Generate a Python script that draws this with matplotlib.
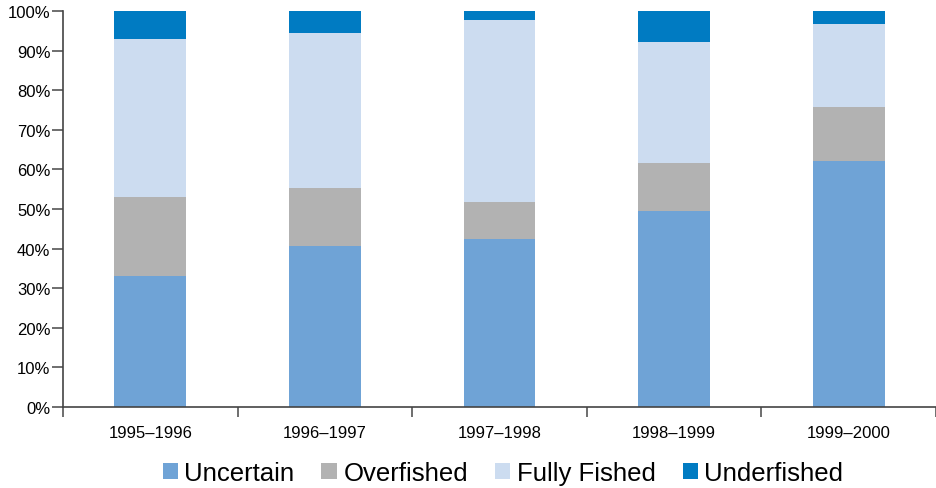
import numpy as np
import matplotlib
matplotlib.use('Agg')
import matplotlib.pyplot as plt
from matplotlib.ticker import FixedLocator, FuncFormatter

plt.rcParams['font.family'] = ['Liberation Sans', 'DejaVu Sans']

## Stock status shares per period (percent) ##
periods = ['1995\u20131996', '1996\u20131997', '1997\u20131998',
           '1998\u20131999', '1999\u20132000']
uncertain = [33.0, 40.7, 42.4, 49.5, 62.1]
overfished = [20.0, 14.6, 9.4, 12.2, 13.6]
fully_fished = [40.0, 39.1, 45.8, 30.4, 20.9]
underfished = [7.0, 5.6, 2.4, 7.9, 3.4]

series = [('Uncertain', uncertain, '#6fa3d6'),
          ('Overfished', overfished, '#b2b2b2'),
          ('Fully Fished', fully_fished, '#ccdcf0'),
          ('Underfished', underfished, '#007bc2')]

fig = plt.figure(figsize=(9.37, 4.89), dpi=100)
ax = fig.add_axes([0.0672, 0.1656, 0.9318, 0.8099])

x = np.arange(len(periods))
bottom = np.zeros(len(periods))
for name, vals, color in series:
    ax.bar(x, vals, width=0.41, bottom=bottom, color=color, label=name,
           edgecolor='none')
    bottom += np.array(vals)

ax.set_xlim(-0.5, len(periods) - 0.5)
ax.set_ylim(0, 100)

ax.set_yticks(np.arange(0, 101, 10))
ax.yaxis.set_major_formatter(FuncFormatter(lambda v, p: f'{int(v)}%'))
ax.tick_params(axis='y', direction='out', length=8, width=1.2,
               color='#555555', labelsize=12, pad=1)

ax.set_xticks(x)
ax.set_xticklabels(periods)
ax.xaxis.set_minor_locator(FixedLocator(np.arange(-0.5, len(periods), 1.0)))
ax.tick_params(axis='x', which='major', length=0, labelsize=12, pad=13)
ax.tick_params(axis='x', which='minor', direction='out', length=7,
               width=1.2, color='#555555')

for side in ['top', 'right']:
    ax.spines[side].set_visible(False)
for side in ['left', 'bottom']:
    ax.spines[side].set_color('#444444')
    ax.spines[side].set_linewidth(1.2)

ax.legend(loc='center', bbox_to_anchor=(0.504, -0.167), ncol=4,
          frameon=False, fontsize=18.5, handlelength=0.6, handleheight=0.6,
          handletextpad=0.25, columnspacing=1.05, borderaxespad=0)

plt.savefig('out.png', dpi=100)
plt.close(fig)
